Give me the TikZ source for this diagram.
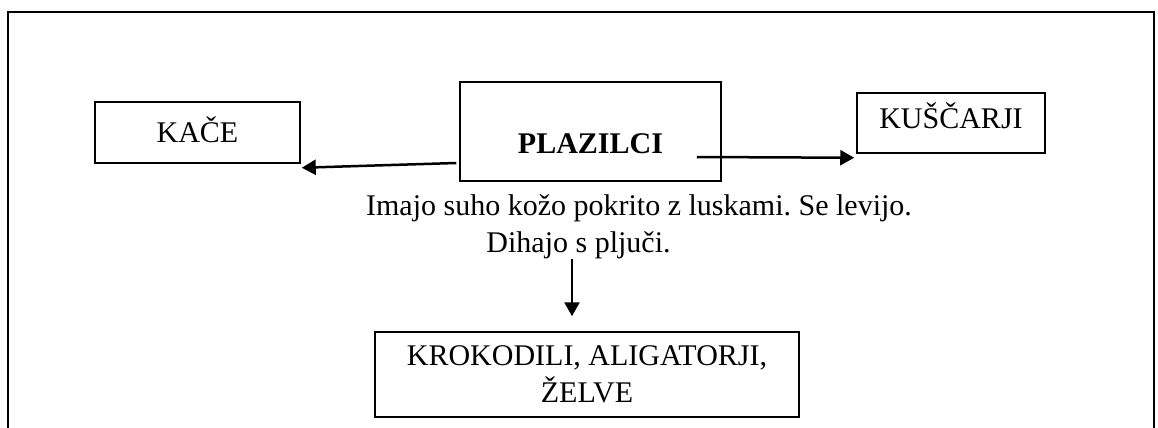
\documentclass[tikz,border=0pt]{standalone}
\usepackage{fontspec}
\setmainfont{Liberation Serif}
\usetikzlibrary{arrows.meta,calc}
\frenchspacing

\begin{document}
\begin{tikzpicture}[x=0.5pt,y=-0.5pt,
    box/.style={draw,line width=0.75pt,inner sep=0pt,font=\fontsize{15pt}{18.5pt}\selectfont},
    txt/.style={inner sep=0pt,anchor=base,font=\fontsize{15pt}{18.5pt}\selectfont},
    arr/.style={line width=1.25pt,-{Triangle[length=7pt,width=7.5pt]}}]
        % Frame
        \useasboundingbox (0,0) rectangle (1158,428);
        \draw[line width=0.75pt] (8,428) -- (8,12) -- (1154,12) -- (1154,428);

        % Boxes
        \node[box,minimum width=102.5pt,minimum height=30.5pt,text height=10pt,text depth=0.5pt] (kace) at (197.5,132.5) {KAČE};
        \node[box,minimum width=130.5pt,minimum height=49.5pt,text height=21.5pt,text depth=0pt,font=\fontsize{15pt}{18.5pt}\selectfont\bfseries] (plazilci) at (590.5,131.5) {PLAZILCI};
        \node[box,minimum width=94pt,minimum height=30pt,text height=8pt,text depth=3pt] (kuscarji) at (951,123) {KUŠČARJI};
        \node[box,minimum width=212pt,minimum height=42.5pt,align=center] (krokodili) at (587,374.5) {KROKODILI, ALIGATORJI,\\ŽELVE};

        % Labels
        \node[txt] (opis) at (639,215) {Imajo suho kožo pokrito z luskami. Se levijo.};
        \node[txt] (dihanje) at (578.5,252) {Dihajo s pljuči.};

        % Arrows
        \coordinate (konec) at ($(krokodili.north)+(-15,-15)$);
        \draw[arr] ($(plazilci.west)+(-3,31.5)$) -- ($(kace.south east)+(1,4)$);
        \draw[arr] ($(plazilci.east)+(-25,25.5)$) -- ($(kuscarji.south west)+(-2,4)$);
        \draw[arr] (dihanje.south -| konec) -- (konec);

    \end{tikzpicture}
\end{document}
